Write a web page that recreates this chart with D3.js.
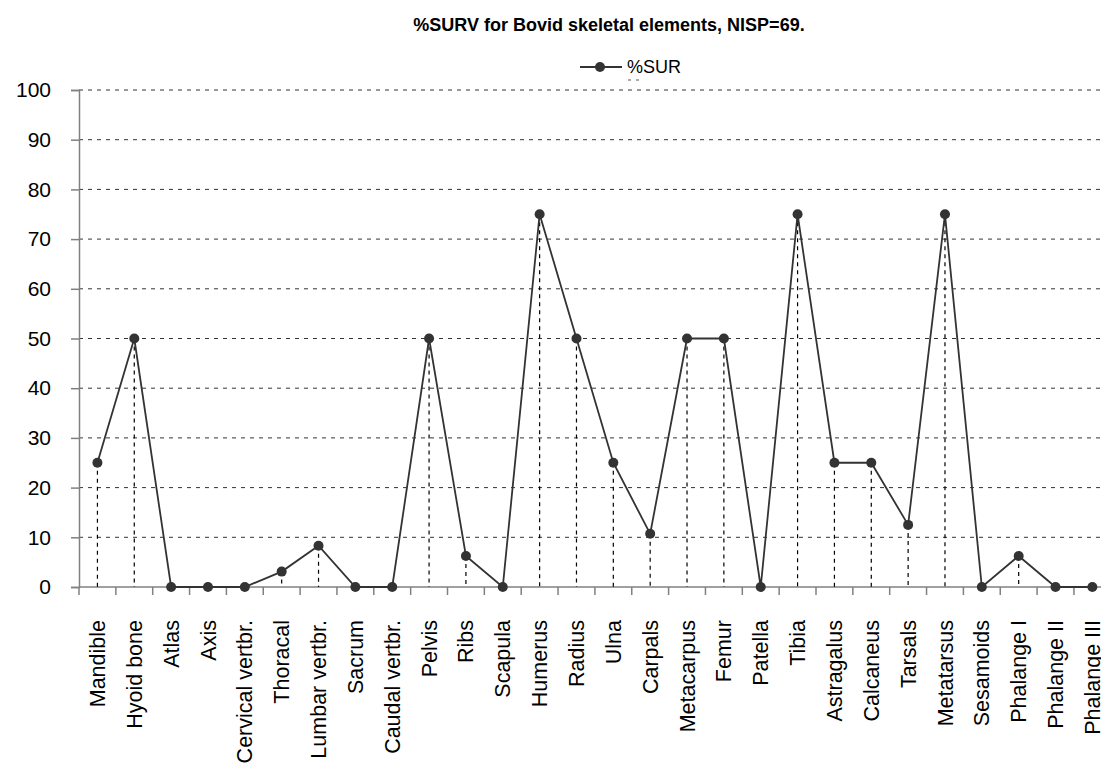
<!DOCTYPE html>
<html>
<head>
<meta charset="utf-8">
<script src="https://cdn.jsdelivr.net/npm/d3@7"></script>
<style>
  html, body { margin: 0; padding: 0; background: #fff; overflow: hidden; }
  svg { display: block; font-family: "Liberation Sans", Arial, sans-serif; }
</style>
</head>
<body>
<svg id="chart" width="1101" height="767"></svg>
<script>
const categories = ["Mandible", "Hyoid bone", "Atlas", "Axis", "Cervical vertbr.", "Thoracal",
  "Lumbar vertbr.", "Sacrum", "Caudal vertbr.", "Pelvis", "Ribs", "Scapula", "Humerus", "Radius",
  "Ulna", "Carpals", "Metacarpus", "Femur", "Patella", "Tibia", "Astragalus", "Calcaneus",
  "Tarsals", "Metatarsus", "Sesamoids", "Phalange I", "Phalange II", "Phalange III"];
const surValues = [25, 50, 0, 0, 0, 3.1, 8.3, 0, 0, 50, 6.25, 0, 75, 50, 25, 10.7, 50, 50, 0, 75,
  25, 25, 12.5, 75, 0, 6.25, 0, 0];
const yTicks = [0, 10, 20, 30, 40, 50, 60, 70, 80, 90, 100];
const seriesName = "%SUR";
const chartTitle = "%SURV for Bovid skeletal elements, NISP=69.";

const svg = d3.select("#chart");
const FONT = "'Liberation Sans', Arial, sans-serif";
const mLeft = 79, mTop = 90, mBottom = 587, bandW = 36.85;
const mRight = mLeft + bandW * categories.length;

const x = d3.scaleBand().domain(categories).range([mLeft, mRight]).padding(0);
const y = d3.scaleLinear().domain([0, 100]).range([mBottom, mTop]);

// gridlines
svg.append("g").selectAll("line").data(yTicks.filter(d => d > 0)).join("line")
  .attr("x1", mLeft).attr("x2", 1101)
  .attr("y1", d => y(d)).attr("y2", d => y(d))
  .attr("stroke", "#333").attr("stroke-width", 1).attr("stroke-dasharray", "4,5");

// y axis
const yAxis = svg.append("g").attr("transform", `translate(${mLeft},0)`)
  .call(d3.axisLeft(y).tickValues(yTicks).tickSize(8).tickPadding(20));
yAxis.select(".domain").attr("stroke", "#808080").attr("stroke-width", 1.5);
yAxis.selectAll(".tick line").attr("stroke", "#808080").attr("stroke-width", 1.5);
yAxis.selectAll(".tick text").attr("font-size", 21).attr("fill", "#000")
  .attr("font-family", FONT);

// x axis
const xAxis = svg.append("g").attr("transform", `translate(0,${mBottom})`)
  .call(d3.axisBottom(x).tickSize(0).tickPadding(0));
xAxis.select(".domain").remove();
xAxis.append("line").attr("x1", mLeft).attr("x2", mRight).attr("y1", 0).attr("y2", 0)
  .attr("stroke", "#808080").attr("stroke-width", 1.5);
xAxis.selectAll(".tickmark").data(d3.range(categories.length + 1)).join("line")
  .attr("class", "tickmark")
  .attr("x1", i => mLeft + i * x.bandwidth()).attr("x2", i => mLeft + i * x.bandwidth())
  .attr("y1", 0).attr("y2", 8).attr("stroke", "#808080").attr("stroke-width", 1.5);
xAxis.selectAll(".tick text")
  .attr("font-size", 21.5).attr("fill", "#000")
  .attr("font-family", FONT)
  .attr("text-anchor", "end")
  .attr("dy", "0.35em")
  .attr("transform", "translate(0,33) rotate(-90)");

const cx = d => x(d) + x.bandwidth() / 2;

// drop lines
svg.append("g").selectAll("line").data(categories.map((c, i) => ({c, v: surValues[i]})).filter(d => d.v > 0))
  .join("line")
  .attr("x1", d => cx(d.c)).attr("x2", d => cx(d.c))
  .attr("y1", d => y(d.v)).attr("y2", y(0))
  .attr("stroke", "#000").attr("stroke-width", 1.2).attr("stroke-dasharray", "4,4");

// series line
const pts = categories.map((c, i) => ({c, v: surValues[i]}));
svg.append("path").datum(pts)
  .attr("fill", "none").attr("stroke", "#333").attr("stroke-width", 1.8)
  .attr("d", d3.line().x(d => cx(d.c)).y(d => y(d.v)));
svg.append("g").selectAll("circle").data(pts).join("circle")
  .attr("cx", d => cx(d.c)).attr("cy", d => y(d.v)).attr("r", 5)
  .attr("fill", "#333");

// title
svg.append("text").attr("x", 609).attr("y", 31).attr("text-anchor", "middle")
  .attr("font-size", 18).attr("font-weight", "bold").attr("fill", "#000").text(chartTitle);

// legend
const lg = svg.append("g");
lg.append("line").attr("x1", 580).attr("x2", 622).attr("y1", 67).attr("y2", 67)
  .attr("stroke", "#333").attr("stroke-width", 1.8);
lg.append("circle").attr("cx", 600).attr("cy", 67).attr("r", 5).attr("fill", "#333");
lg.append("text").attr("x", 627).attr("y", 73).attr("font-size", 18).attr("fill", "#000").text(seriesName);
lg.append("line").attr("x1", 628).attr("x2", 641).attr("y1", 80).attr("y2", 80)
  .attr("stroke", "#555").attr("stroke-width", 1).attr("stroke-dasharray", "3,5");
</script>
</body>
</html>
